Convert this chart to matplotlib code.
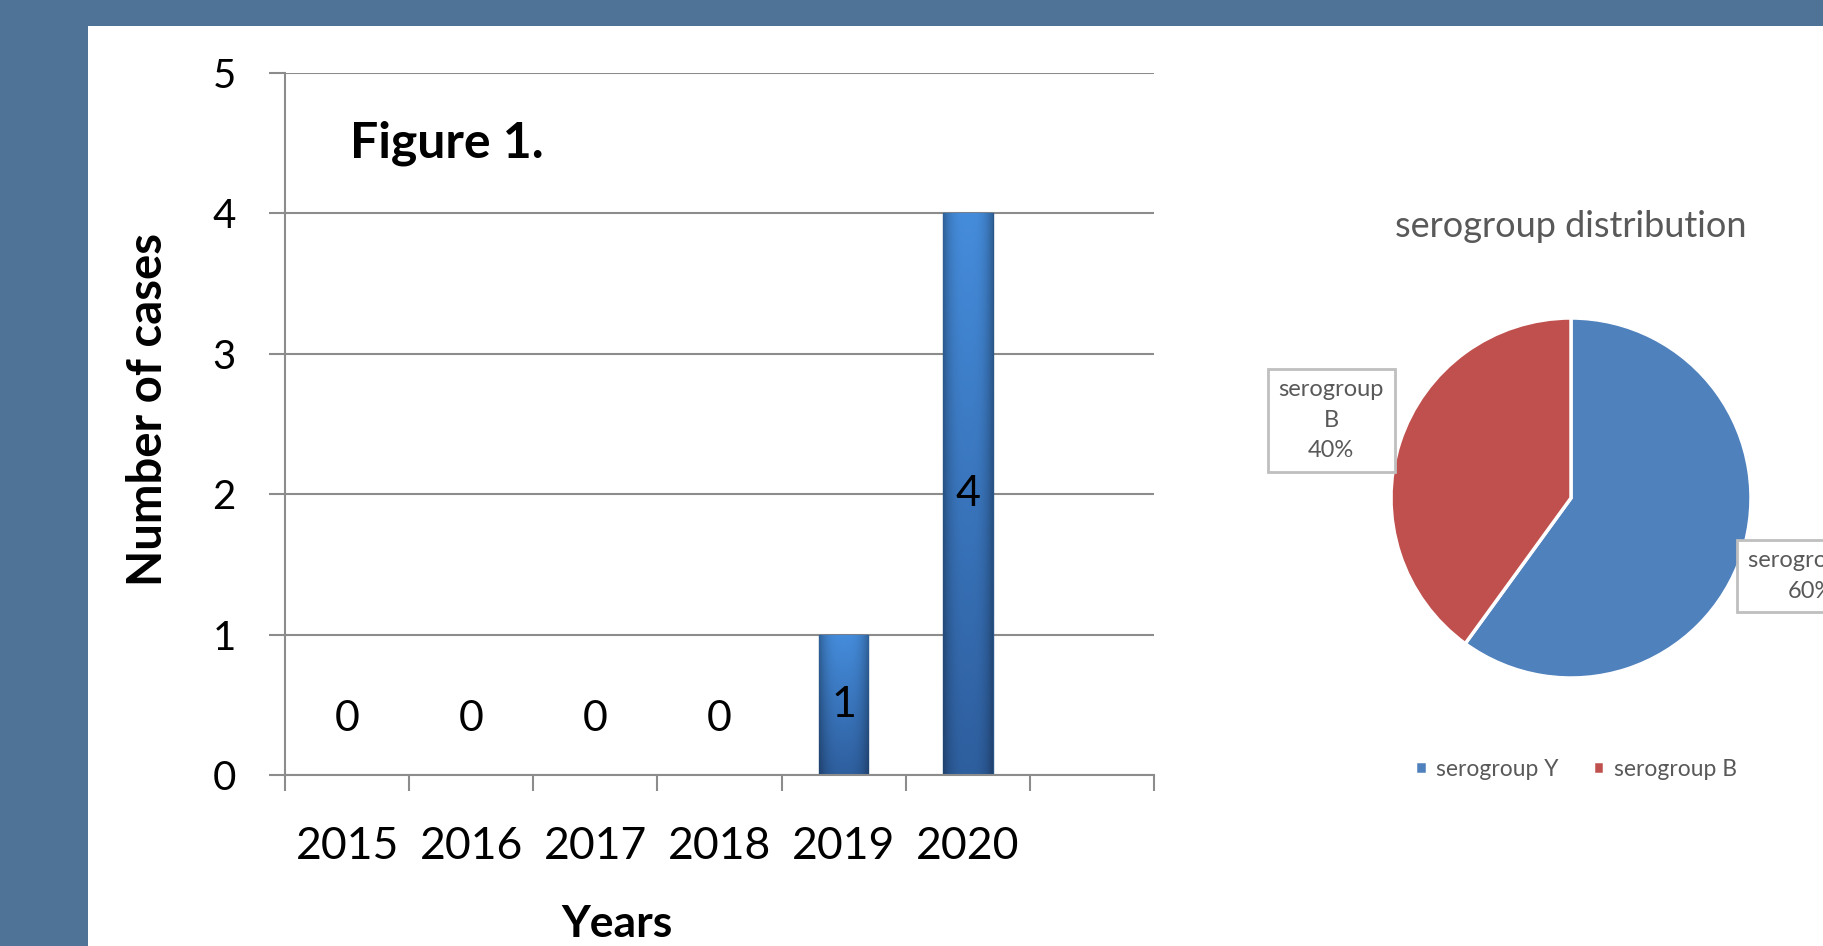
import numpy as np
import matplotlib
matplotlib.use("Agg")
import matplotlib.pyplot as plt
from matplotlib.patches import Rectangle

plt.rcParams['font.family'] = ['Lato', 'DejaVu Sans']

# bar chart data
years = ['2015', '2016', '2017', '2018', '2019', '2020']
cases = [0, 0, 0, 0, 1, 4]
# pie chart data
groups = ['serogroup Y', 'serogroup B']
group_counts = [3, 2]
pie_labels = ['serogroup Y', 'serogroup\nB']
pie_colors = ['#4F81BD', '#C0504D']

fig = plt.figure(figsize=(18.23, 9.46), dpi=100)
fig.patch.set_facecolor('#4F7297')
# white slide panel (behind the axes)
fig.patches.append(Rectangle((88 / 1823, 0), 1, 1 - 26 / 946, transform=fig.transFigure,
                             facecolor='white', edgecolor='none', zorder=-1))

#Bar chart
ax = fig.add_axes([285 / 1823, 171 / 946, 869 / 1823, 702 / 946])
ax.set_facecolor('none')
x = np.arange(len(years))
bars = ax.bar(x, cases, width=0.4, color='#3A73B8', edgecolor='#2A5589', linewidth=1, zorder=2)

# fake the excel gradient on each bar
ny, nx = 100, 40
tv = np.linspace(0, 1, ny)[:, None]
th = np.abs(np.linspace(-1, 1, nx))[None, :]
top = np.array([0.27, 0.55, 0.86])
bot = np.array([0.18, 0.37, 0.62])
grad = top[None, None, :] * (1 - tv[..., None]) + bot[None, None, :] * tv[..., None]
grad = grad * (1 - 0.3 * th[..., None] ** 3)
for b in bars:
    if b.get_height() == 0:
        continue
    im = ax.imshow(grad, extent=[b.get_x(), b.get_x() + b.get_width(), 0, b.get_height()],
                   aspect='auto', zorder=2.5, interpolation='bilinear')
    im.set_clip_path(b)

# data labels
for xi, v in zip(x, cases):
    ypos = v / 2 if v > 0 else 0.4
    ax.text(xi, ypos, str(v), ha='center', va='center', fontsize=31, color='black', zorder=4)

ax.set_xlim(-0.5, len(years) + 0.5)
ax.set_ylim(0, 5)
ax.set_yticks(range(0, 6))
ax.yaxis.grid(True, color='#8C8C8C', linewidth=1.5)
ax.set_axisbelow(True)
ax.set_xticks(np.arange(-0.5, len(years) + 1, 1))
ax.set_xticklabels([])
ax.set_xticks(x, minor=True)
ax.set_xticklabels(years, minor=True)
ax.tick_params(axis='x', which='major', length=11.5, width=1.5, color='#8C8C8C', direction='out')
ax.tick_params(axis='x', which='minor', length=0, pad=37, labelsize=32)
ax.tick_params(axis='y', length=11.5, width=1.5, color='#8C8C8C', pad=24, labelsize=29)
for s in ['top', 'right']:
    ax.spines[s].set_visible(False)
for s in ['left', 'bottom']:
    ax.spines[s].set_color('#8C8C8C')
    ax.spines[s].set_linewidth(1.5)

ax.set_ylabel('Number of cases', fontsize=34, fontweight='bold', va='center')
ax.yaxis.set_label_coords(-0.158, 0.52)
ax.set_xlabel('Years', fontsize=32, fontweight='bold', va='center')
ax.xaxis.set_label_coords(0.382, -0.212)
ax.text(0.075, 0.9, 'Figure 1.', transform=ax.transAxes, fontsize=36, fontweight='bold',
        ha='left', va='center')

#Pie chart
ax2 = fig.add_axes([1391 / 1823, 268 / 946, 360 / 1823, 360 / 946])
total = sum(group_counts)
labels = [f"{l}\n{c / total * 100:.0f}%" for l, c in zip(pie_labels, group_counts)]
wedges, texts = ax2.pie(group_counts, colors=pie_colors, startangle=90, counterclock=False,
                        labels=labels, labeldistance=1.4,
                        wedgeprops=dict(edgecolor='white', linewidth=2.5),
                        textprops=dict(fontsize=17, color='#595959'))
for t in texts:
    t.set_ha('center')
    t.set_multialignment('center')
    t.set_linespacing(1.55)
    t.set_bbox(dict(boxstyle='square,pad=0.45', facecolor='white', edgecolor='#BFBFBF', linewidth=2))
    t.set_clip_on(False)
for w in wedges:
    w.set_clip_on(False)
ax2.set_xlim(-1, 1)
ax2.set_ylim(-1, 1)
ax2.set_title('serogroup distribution', fontsize=26, color='#595959', pad=58)

fig.legend(wedges, groups, loc='center', bbox_to_anchor=(0.8645, 0.187), ncol=2, frameon=False,
           handlelength=0.5, handleheight=0.5, handletextpad=0.4, columnspacing=1.5,
           prop=dict(size=16.5), labelcolor='#595959')

fig.savefig('out.png', dpi=100, facecolor=fig.get_facecolor())
